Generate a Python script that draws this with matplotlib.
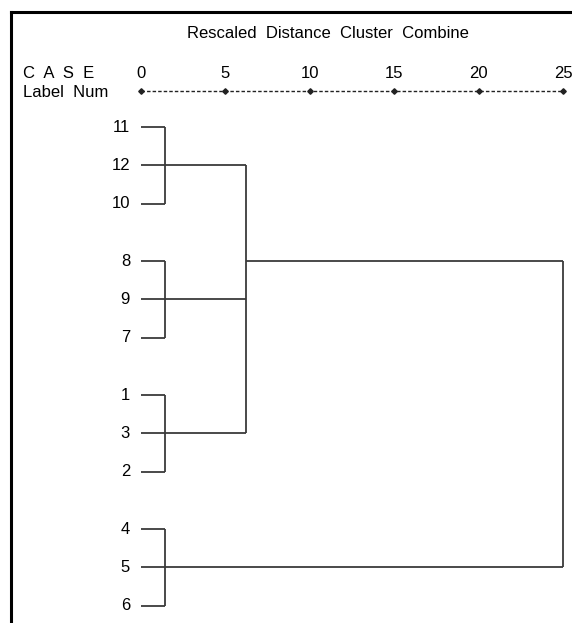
import matplotlib.pyplot as plt
from matplotlib.lines import Line2D

plt.rcParams['font.family'] = ['Liberation Sans', 'DejaVu Sans']

# case labels top to bottom and their row positions (blank half rows between clusters)
case_labels = ['11', '12', '10', '8', '9', '7', '1', '3', '2', '4', '5', '6']
case_rows = [0, 1, 2, 3.5, 4.5, 5.5, 7, 8, 9, 10.5, 11.5, 12.5]

# three-member clusters, joined at the first level
clusters = [[0, 1, 2], [3, 4, 5], [6, 7, 8], [9, 10, 11]]
first_join = 1.4
second_join = 6.2
final_join = 25

scale_ticks = [0, 5, 10, 15, 20, 25]

line_kw = dict(color='#3a3a3a', lw=1.3, solid_capstyle='butt')
fs = 12

fig = plt.figure(figsize=(5.72, 6.23), dpi=100)
ax = fig.add_axes([0, 0, 1, 1])
ax.set_xlim(-8.353, 25.533)
ax.set_ylim(12.95, -3.316)
ax.axis('off')

# outer frame (top and left edge)
fig.add_artist(Line2D([10.5 / 572, 10.5 / 572], [0, 1 - 12 / 623], color='black', lw=2.2))
fig.add_artist(Line2D([10.5 / 572, 1], [1 - 12 / 623, 1 - 12 / 623], color='black', lw=2.2))

# scale header
ax.text(11.1, -2.44, 'Rescaled  Distance  Cluster  Combine', ha='center', va='center', fontsize=fs)
ax.text(-7.02, -1.41, 'C  A  S  E', ha='left', va='center', fontsize=fs)
ax.text(-7.02, -0.89, 'Label  Num', ha='left', va='center', fontsize=fs)
for t in scale_ticks:
    ax.text(t, -1.41, str(t), ha='center', va='center', fontsize=fs)
ax.plot([scale_ticks[0], scale_ticks[-1]], [-0.94, -0.94], color='#222222', lw=1.0,
        linestyle=(0, (2.5, 1.5)))
ax.plot(scale_ticks, [-0.94] * len(scale_ticks), linestyle='none', marker='D',
        markersize=2.8, color='#222222')

# case numbers
for lab, r in zip(case_labels, case_rows):
    ax.text(-0.65, r, lab, ha='right', va='center', fontsize=fs)

# first level joins
exit_rows = []
for i, grp in enumerate(clusters):
    top, mid, bot = [case_rows[k] for k in grp]
    ax.plot([0, first_join], [top, top], **line_kw)
    ax.plot([0, first_join], [bot, bot], **line_kw)
    ax.plot([first_join, first_join], [top, bot], **line_kw)
    end = second_join if i < 3 else final_join
    ax.plot([0, end], [mid, mid], **line_kw)
    exit_rows.append(mid)

# second level join of the first three clusters
ax.plot([second_join, second_join], [exit_rows[0], exit_rows[2]], **line_kw)
link_row = case_rows[clusters[1][0]]
ax.plot([second_join, final_join], [link_row, link_row], **line_kw)

# final join with the last cluster
ax.plot([final_join, final_join], [link_row, exit_rows[3]], **line_kw)

fig.savefig('out.png', dpi=100)
